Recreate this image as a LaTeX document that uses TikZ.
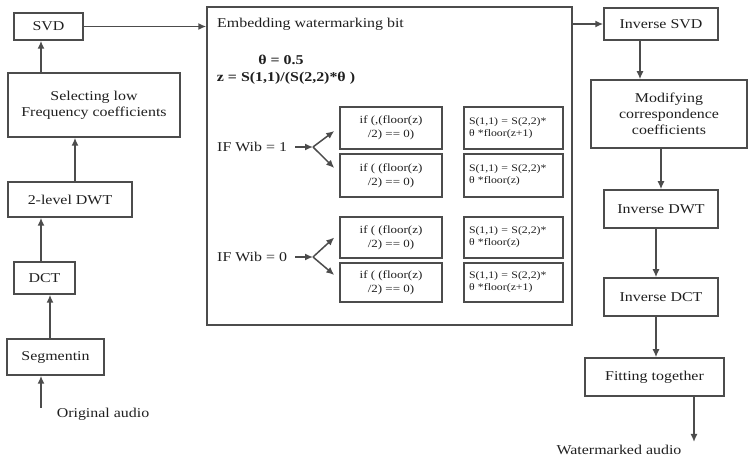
\documentclass[tikz,border=0pt]{standalone}
\usepackage{fontspec}
\setmainfont{Liberation Serif}[FakeStretch=1.18]
\usetikzlibrary{arrows.meta}
\definecolor{ln}{gray}{0.3}
\definecolor{tx}{gray}{0.12}
\begin{document}
\begin{tikzpicture}[x=1pt,y=-1pt,
  box/.style={draw=ln,line width=1.5pt,inner sep=0pt,align=center,text=tx,font=\fontsize{13.5}{16}\selectfont},
  ifbox/.style={box,minimum width=102pt,font=\fontsize{11}{14}\selectfont},
  sbox/.style={box,minimum width=99pt,align=left,font=\fontsize{10}{12}\selectfont},
  lbl/.style={text=tx,inner sep=0pt,font=\fontsize{13.5}{16}\selectfont},
  arr/.style={draw=ln,line width=1.5pt,-{Latex[length=8pt,width=7pt]}}]
\useasboundingbox (0,0) rectangle (748,457);
% left column
\node[box,minimum width=69pt,minimum height=27pt] (svd) at (48.5,26.5) {SVD};
\node[box,minimum width=172pt,minimum height=64pt] (sel) at (94,105) {Selecting low\\Frequency coefficients};
\node[box,minimum width=124pt,minimum height=35pt] (dwt) at (70,199.5) {2-level DWT};
\node[box,minimum width=61pt,minimum height=32pt] (dct) at (44.5,278) {DCT};
\node[box,minimum width=97pt,minimum height=36pt] (seg) at (55.5,357) {Segmentin};
\coordinate (orig) at (41,408);
\node[lbl] (origtxt) at (103,414) {Original audio};
% big box
\node[box,minimum width=365pt,minimum height=318pt] (big) at (389.5,166) {};
\node[lbl,anchor=west] (emb) at (217,24) {Embedding watermarking bit};
\node[lbl,font=\fontsize{13.5}{16}\selectfont\bfseries] (theta) at (281,60) {θ = 0.5};
\node[lbl,font=\fontsize{13.5}{16}\selectfont\bfseries] (zeq) at (286,78) {z = S(1,1)/(S(2,2)*θ )};
\node[lbl,anchor=west] (wib1) at (217,147) {IF Wib = 1};
\node[lbl,anchor=west] (wib0) at (217,257) {IF Wib = 0};
\coordinate (f1) at (313,147);
\coordinate (f0) at (313,257);
\node[ifbox,minimum height=42pt] (ifA) at (391,128) {if (,(floor(z)\\/2) == 0)};
\node[ifbox,minimum height=43pt] (ifB) at (391,175.5) {if ( (floor(z)\\/2) == 0)};
\node[ifbox,minimum height=41pt] (ifC) at (391,237.5) {if ( (floor(z)\\/2) == 0)};
\node[ifbox,minimum height=39pt] (ifD) at (391,282.5) {if ( (floor(z)\\/2) == 0)};
\node[sbox,minimum height=42pt,text width=89pt] (sA) at (513.5,128) {S(1,1) = S(2,2)*\\θ *floor(z+1)};
\node[sbox,minimum height=43pt,text width=89pt] (sB) at (513.5,175.5) {S(1,1) = S(2,2)*\\θ *floor(z)};
\node[sbox,minimum height=41pt,text width=89pt] (sC) at (513.5,237.5) {S(1,1) = S(2,2)*\\θ *floor(z)};
\node[sbox,minimum height=39pt,text width=89pt] (sD) at (513.5,282.5) {S(1,1) = S(2,2)*\\θ *floor(z+1)};
% right column
\node[box,minimum width=114pt,minimum height=32pt] (isvd) at (661,24) {Inverse SVD};
\node[box,minimum width=156pt,minimum height=68pt] (mod) at (669,114) {Modifying\\correspondence\\coefficients};
\node[box,minimum width=114pt,minimum height=38pt] (idwt) at (661,209) {Inverse DWT};
\node[box,minimum width=114pt,minimum height=38pt] (idct) at (661,297) {Inverse DCT};
\node[box,minimum width=139pt,minimum height=38pt] (fit) at (654.5,377) {Fitting together};
\coordinate (out) at (694,442);
\node[lbl] (outtxt) at (619,450) {Watermarked audio};
% connectors left
\draw[arr] (orig) -- (orig |- seg.south);
\draw[arr] ([xshift=-5.5]seg.north) -- ([xshift=-5.5]seg.north |- dct.south);
\draw[arr] ([xshift=-3.5]dct.north) -- ([xshift=-3.5]dct.north |- dwt.south);
\draw[arr] ([xshift=5]dwt.north) -- ([xshift=5]dwt.north |- sel.south);
\draw[arr] ([xshift=-7.5]svd.south |- sel.north) -- ([xshift=-7.5]svd.south);
\draw[arr] (svd.east) -- (svd.east -| big.west);
% inside
\draw[arr] ([xshift=8]wib1.east) -- (f1);
\draw[arr] (f1) -- ([shift={(-5,3)}]ifA.west);
\draw[arr] (f1) -- ([shift={(-5,-7.5)}]ifB.west);
\draw[arr] ([xshift=8]wib0.east) -- (f0);
\draw[arr] (f0) -- ([xshift=-5]ifC.west);
\draw[arr] (f0) -- ([shift={(-5,-7.5)}]ifD.west);
% right connectors
\draw[arr] (isvd.west -| big.east) -- (isvd.west);
\draw[arr] ([xshift=-21]isvd.south) -- ([xshift=-21]isvd.south |- mod.north);
\draw[arr] (idwt.north |- mod.south) -- (idwt.north);
\draw[arr] ([xshift=-5]idwt.south) -- ([xshift=-5]idct.north);
\draw[arr] ([xshift=-5]idct.south) -- ([xshift=-5]idct.south |- fit.north);
\draw[arr] (fit.south -| out) -- (out);
\end{tikzpicture}
\end{document}
